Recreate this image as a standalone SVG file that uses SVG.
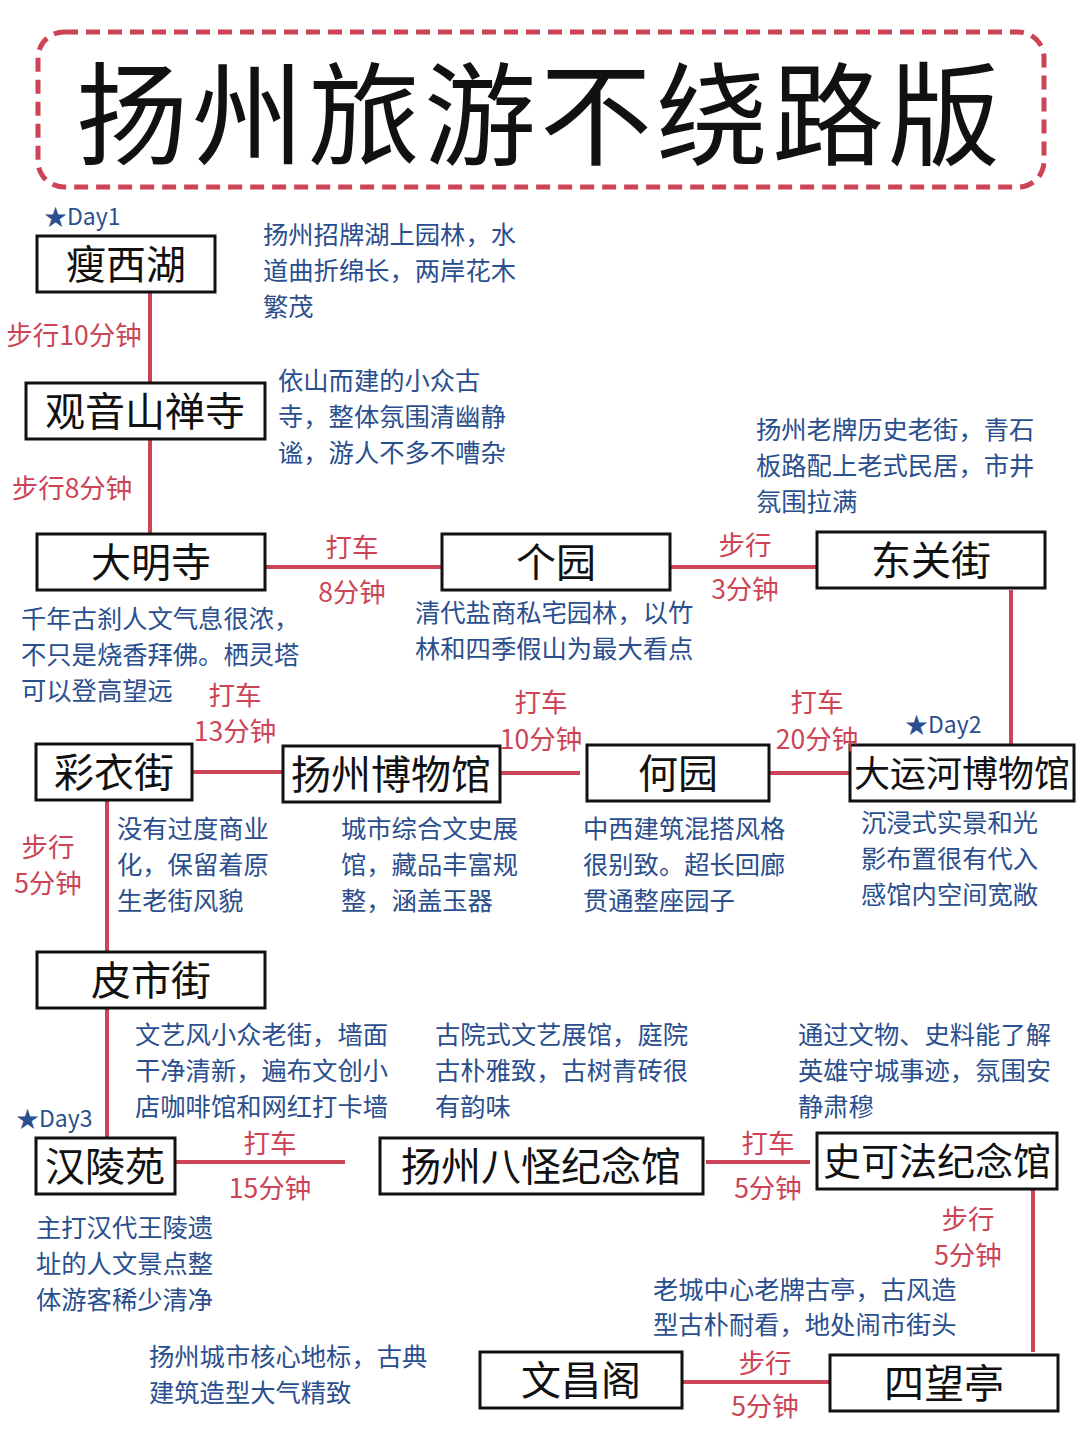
<svg xmlns="http://www.w3.org/2000/svg" width="1080" height="1440" viewBox="0 0 1080 1440">
<style>
.n rect{fill:#fff;stroke:#111;stroke-width:3}
.n text{font-family:"Noto Sans CJK SC",sans-serif;font-size:40px;fill:#111;text-anchor:middle}
.c line{stroke:#cc4455;stroke-width:4}
.l{font-family:"Noto Sans CJK SC",sans-serif;font-size:26.5px;fill:#cc4455;text-anchor:middle}
.d{font-family:"Noto Sans CJK SC",sans-serif;font-size:25.3px;fill:#2b4f8e}
.day{font-family:"Noto Sans CJK SC",sans-serif;font-size:23px;fill:#2b4f8e}
</style>
<rect width="1080" height="1440" fill="#fff"/>
<rect x="38" y="32" width="1006" height="155" rx="26" fill="none" stroke="#cc4455" stroke-width="5" stroke-dasharray="14 8"/>
<text x="540" y="157" font-family="Noto Sans CJK SC,sans-serif" font-size="112" fill="#111" text-anchor="middle" letter-spacing="4">扬州旅游不绕路版</text>
<g class="c">
<line x1="150" y1="292" x2="150" y2="383"/>
<line x1="150" y1="439" x2="150" y2="534"/>
<line x1="265" y1="567" x2="442" y2="567"/>
<line x1="670" y1="567" x2="817" y2="567"/>
<line x1="1011" y1="590" x2="1011" y2="745"/>
<line x1="192" y1="772" x2="283" y2="772"/>
<line x1="500" y1="773" x2="580" y2="773"/>
<line x1="769" y1="773" x2="850" y2="773"/>
<line x1="107" y1="800" x2="107" y2="952"/>
<line x1="107" y1="1008" x2="107" y2="1138"/>
<line x1="175" y1="1162" x2="345" y2="1162"/>
<line x1="706" y1="1162" x2="810" y2="1162"/>
<line x1="1033" y1="1189" x2="1033" y2="1352"/>
<line x1="682" y1="1382" x2="830" y2="1382"/>
</g>
<g id="n1" class="n"><rect x="37" y="236" width="178" height="56"/><text x="126" y="279">瘦西湖</text></g>
<g id="n2" class="n"><rect x="26" y="383" width="239" height="56"/><text x="145" y="426">观音山禅寺</text></g>
<g id="n3" class="n"><rect x="37" y="534" width="228" height="56"/><text x="151" y="577">大明寺</text></g>
<g id="n4" class="n"><rect x="442" y="534" width="228" height="56"/><text x="556" y="577">个园</text></g>
<g id="n5" class="n"><rect x="817" y="532" width="228" height="56"/><text x="931" y="575">东关街</text></g>
<g id="n6" class="n"><rect x="36" y="744" width="156" height="56"/><text x="114" y="787">彩衣街</text></g>
<g id="n7" class="n"><rect x="283" y="746" width="217" height="56"/><text x="391" y="789">扬州博物馆</text></g>
<g id="n8" class="n"><rect x="587" y="745" width="182" height="56"/><text x="678" y="788">何园</text></g>
<g id="n9" class="n"><rect x="850" y="745" width="224" height="56"/><text x="962" y="787" style="font-size:36px">大运河博物馆</text></g>
<g id="n10" class="n"><rect x="37" y="952" width="228" height="56"/><text x="151" y="995">皮市街</text></g>
<g id="n11" class="n"><rect x="36" y="1138" width="139" height="56"/><text x="105" y="1181">汉陵苑</text></g>
<g id="n12" class="n"><rect x="380" y="1138" width="323" height="56"/><text x="541" y="1181">扬州八怪纪念馆</text></g>
<g id="n13" class="n"><rect x="817" y="1133" width="240" height="56"/><text x="937" y="1175" style="font-size:38px">史可法纪念馆</text></g>
<g id="n14" class="n"><rect x="480" y="1352" width="202" height="56"/><text x="581" y="1395">文昌阁</text></g>
<g id="n15" class="n"><rect x="830" y="1355" width="228" height="56"/><text x="944" y="1398">四望亭</text></g>
<g id="labels">
<text class="l" x="74" y="345">步行10分钟</text>
<text class="l" x="72" y="498">步行8分钟</text>
<text class="l" x="352" y="557">打车</text><text class="l" x="352" y="602">8分钟</text>
<text class="l" x="745" y="555">步行</text><text class="l" x="745" y="599">3分钟</text>
<text class="l" x="235" y="705">打车</text><text class="l" x="235" y="741">13分钟</text>
<text class="l" x="541" y="712">打车</text><text class="l" x="541" y="749">10分钟</text>
<text class="l" x="817" y="712">打车</text><text class="l" x="817" y="749">20分钟</text>
<text class="l" x="48" y="857">步行</text><text class="l" x="48" y="893">5分钟</text>
<text class="l" x="270" y="1153">打车</text><text class="l" x="270" y="1198">15分钟</text>
<text class="l" x="768" y="1153">打车</text><text class="l" x="768" y="1198">5分钟</text>
<text class="l" x="968" y="1229">步行</text><text class="l" x="968" y="1265">5分钟</text>
<text class="l" x="765" y="1373">步行</text><text class="l" x="765" y="1416">5分钟</text>
<text class="day" x="44" y="225">★Day1</text>
<text class="day" x="905" y="733">★Day2</text>
<text class="day" x="16" y="1127">★Day3</text>
</g>
<g id="desc" class="d">
<text x="263" y="244">扬州招牌湖上园林，水</text><text x="263" y="280">道曲折绵长，两岸花木</text><text x="263" y="316">繁茂</text>
<text x="278" y="390">依山而建的小众古</text><text x="278" y="426">寺，整体氛围清幽静</text><text x="278" y="462">谧，游人不多不嘈杂</text>
<text x="756" y="439">扬州老牌历史老街，青石</text><text x="756" y="475">板路配上老式民居，市井</text><text x="756" y="511">氛围拉满</text>
<text x="21" y="628">千年古刹人文气息很浓，</text><text x="21" y="664">不只是烧香拜佛。栖灵塔</text><text x="21" y="700">可以登高望远</text>
<text x="415" y="622">清代盐商私宅园林，以竹</text><text x="415" y="658">林和四季假山为最大看点</text>
<text x="117" y="838">没有过度商业</text><text x="117" y="874">化，保留着原</text><text x="117" y="910">生老街风貌</text>
<text x="341" y="838">城市综合文史展</text><text x="341" y="874">馆，藏品丰富规</text><text x="341" y="910">整，涵盖玉器</text>
<text x="583" y="838">中西建筑混搭风格</text><text x="583" y="874">很别致。超长回廊</text><text x="583" y="910">贯通整座园子</text>
<text x="861" y="832">沉浸式实景和光</text><text x="861" y="868">影布置很有代入</text><text x="861" y="904">感馆内空间宽敞</text>
<text x="135" y="1044">文艺风小众老街，墙面</text><text x="135" y="1080">干净清新，遍布文创小</text><text x="135" y="1116">店咖啡馆和网红打卡墙</text>
<text x="435" y="1044">古院式文艺展馆，庭院</text><text x="435" y="1080">古朴雅致，古树青砖很</text><text x="435" y="1116">有韵味</text>
<text x="798" y="1044">通过文物、史料能了解</text><text x="798" y="1080">英雄守城事迹，氛围安</text><text x="798" y="1116">静肃穆</text>
<text x="36" y="1237">主打汉代王陵遗</text><text x="36" y="1273">址的人文景点整</text><text x="36" y="1309">体游客稀少清净</text>
<text x="653" y="1299">老城中心老牌古亭，古风造</text><text x="653" y="1334">型古朴耐看，地处闹市街头</text>
<text x="149" y="1366">扬州城市核心地标，古典</text><text x="149" y="1402">建筑造型大气精致</text>
</g>
</svg>
